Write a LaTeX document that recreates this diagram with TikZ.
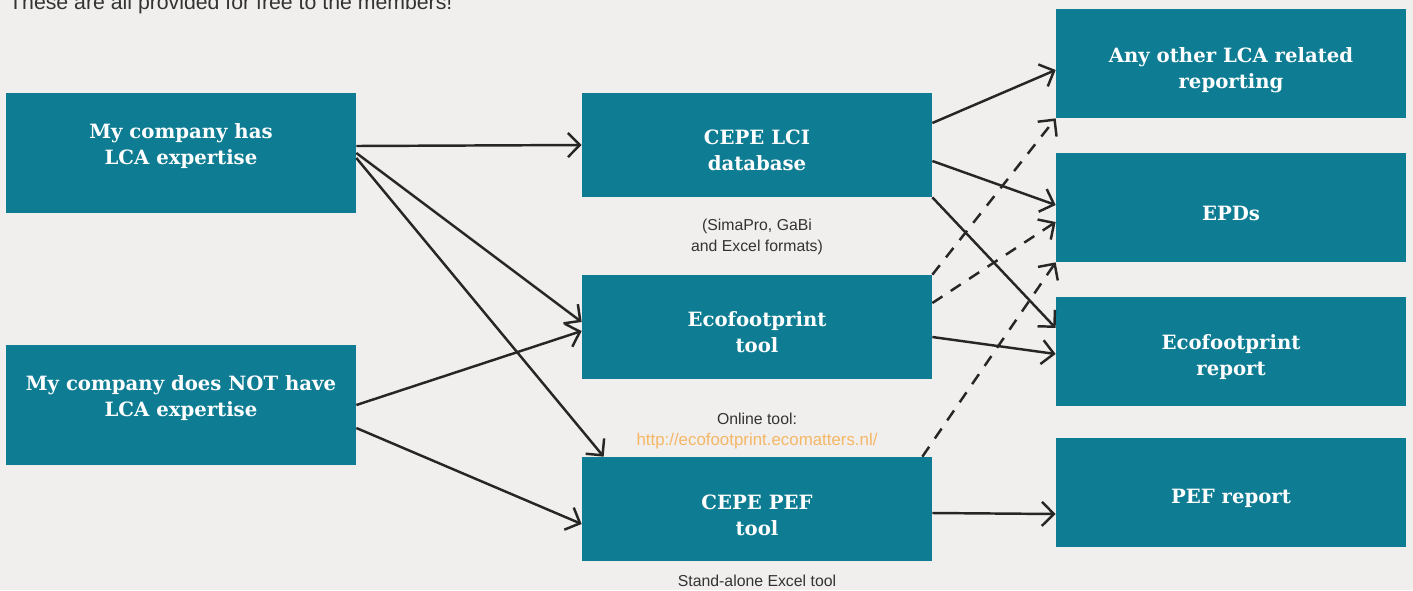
\documentclass[tikz,border=0pt]{standalone}
\usepackage{fontspec}
\setmainfont{Liberation Sans}
\newfontfamily\boxfont{DejaVu Serif}
\usetikzlibrary{arrows.meta}
\definecolor{cepeteal}{HTML}{0E7C93}
\definecolor{pagebg}{HTML}{F0EFED}
\definecolor{linkorange}{HTML}{F5B766}
\definecolor{notegray}{HTML}{333333}
\begin{document}
\begin{tikzpicture}[
    box/.style={rectangle, fill=cepeteal, minimum width=7cm, inner sep=0pt},
    boxtext/.style={text=white, align=center, inner sep=0pt,
      font=\boxfont\bfseries\fontsize{11.2}{14.8}\selectfont},
    note/.style={text=notegray, align=center,
      font=\fontsize{9}{12.4}\selectfont},
    flow/.style={line width=1.4pt, draw=black!85,
      -{Straight Barb[length=2.4mm,width=4.8mm]}},
  ]
  \fill[pagebg] (0,0) rectangle (28.26,-11.8);
  \useasboundingbox (0,0) rectangle (28.26,-11.8);
  \node[anchor=base west, text=notegray, font=\fontsize{12.1}{14}\selectfont]
    (intro) at (0.06,-0.18) {These are all provided for free to the members!};
  \path
    (3.62,-3.06) node[box, minimum height=2.4cm,
      label={[boxtext, yshift=0.14cm]center:{My company has\\LCA expertise}}] (has) {}
    (3.62,-8.10) node[box, minimum height=2.4cm,
      label={[boxtext, yshift=0.14cm]center:{My company does NOT have\\LCA expertise}}] (hasnot) {}
    (15.14,-2.90) node[box, minimum height=2.08cm,
      label={[boxtext, yshift=-0.1cm]center:{CEPE LCI\\database}}] (lci) {}
    (15.14,-6.54) node[box, minimum height=2.08cm,
      label={[boxtext, yshift=-0.1cm]center:{Ecofootprint\\tool}}] (eco) {}
    (15.14,-10.18) node[box, minimum height=2.08cm,
      label={[boxtext, yshift=-0.12cm]center:{CEPE PEF\\tool}}] (pef) {}
    (24.62,-1.27) node[box, minimum height=2.18cm,
      label={[boxtext, yshift=-0.14cm]center:{Any other LCA related\\reporting}}] (other) {}
    (24.62,-4.15) node[box, minimum height=2.18cm,
      label={[boxtext, yshift=-0.12cm]center:{EPDs}}] (epd) {}
    (24.62,-7.03) node[box, minimum height=2.18cm,
      label={[boxtext, yshift=-0.12cm]center:{Ecofootprint\\report}}] (ecorep) {}
    (24.62,-9.85) node[box, minimum height=2.18cm,
      label={[boxtext, yshift=-0.12cm]center:{PEF report}}] (pefrep) {};
  \node[note] (formats) at (15.14,-4.74) {(SimaPro, GaBi\\and Excel formats)};
  \node[note] (online) at (15.14,-8.62) {Online tool:\\{\fontsize{9.6}{12.4}\selectfont\textcolor{linkorange}{http://ecofootprint.ecomatters.nl/}}};
  \node[note] (standalone) at (15.14,-11.62) {Stand-alone Excel tool};
  \begin{scope}[flow]
    \draw ([yshift=0.14cm]has.east) to (lci.west);
    \draw (has.east) to ([yshift=0.1cm]eco.west);
    \draw ([yshift=-0.1cm]has.east) to ([xshift=0.44cm]pef.north west);
    \draw (hasnot.east) to ([yshift=-0.08cm]eco.west);
    \draw ([yshift=-0.46cm]hasnot.east) to ([yshift=-0.3cm]pef.west);
    \draw ([yshift=0.44cm]lci.east) to ([yshift=-0.13cm]other.west);
    \draw ([yshift=-0.32cm]lci.east) to ([yshift=0.05cm]epd.west);
    \draw (lci.south east) to ([yshift=0.47cm]ecorep.west);
    \draw[dashed, dash pattern=on 0.24cm off 0.2cm] (eco.north east) to (other.south west);
    \draw[dashed, dash pattern=on 0.24cm off 0.2cm] ([yshift=0.48cm]eco.east) to ([yshift=-0.29cm]epd.west);
    \draw ([yshift=-0.2cm]eco.east) to ([yshift=-0.05cm]ecorep.west);
    \draw[dashed, dash pattern=on 0.24cm off 0.2cm] ([xshift=-0.2cm]pef.north east) to (epd.south west);
    \draw ([yshift=-0.08cm]pef.east) to ([yshift=-0.43cm]pefrep.west);
  \end{scope}
\end{tikzpicture}
\end{document}
